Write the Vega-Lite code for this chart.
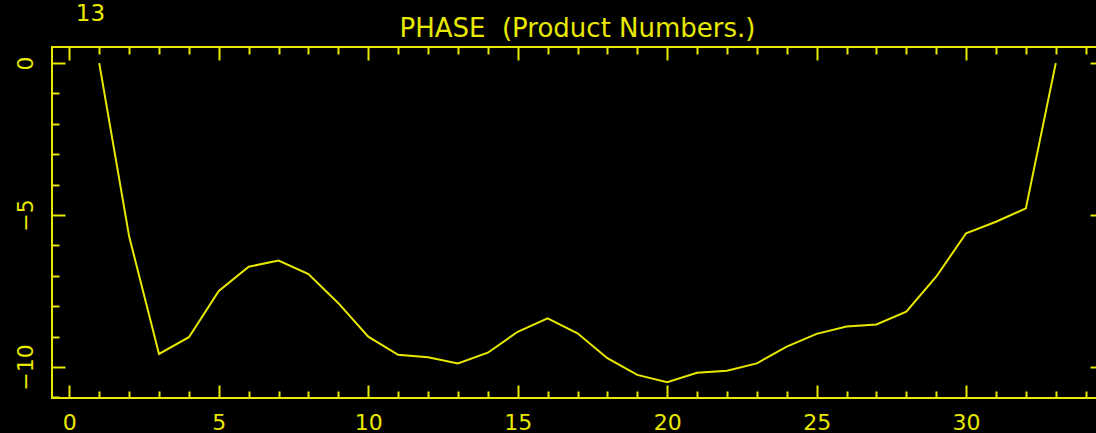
{
  "$schema": "https://vega.github.io/schema/vega-lite/v6.json",
  "width": 1051,
  "height": 351,
  "autosize": {"type": "none"},
  "padding": {"left": 52, "top": 47, "right": -7, "bottom": 35},
  "background": "#000000",
  "title": {
    "text": "PHASE \u00a0(Product Numbers.)",
    "color": "#e8e800",
    "font": "DejaVu Sans",
    "fontSize": 26,
    "fontWeight": "normal",
    "anchor": "middle",
    "baseline": "alphabetic",
    "offset": -61
  },
  "config": {
    "view": {"stroke": "#e8e800", "strokeWidth": 2},
    "axis": {
      "grid": false,
      "domain": false,
      "tickColor": "#e8e800",
      "tickWidth": 2,
      "labelColor": "#e8e800",
      "labelFont": "DejaVu Sans",
      "labelFontSize": 22,
      "titleColor": "#e8e800",
      "titleFont": "DejaVu Sans",
      "titleFontWeight": "normal"
    }
  },
  "data": {
    "values": [
      {"n": 1, "phase": 0},
      {"n": 2, "phase": -5.7},
      {"n": 3, "phase": -9.57},
      {"n": 4, "phase": -9.02},
      {"n": 5, "phase": -7.5},
      {"n": 6, "phase": -6.7},
      {"n": 7, "phase": -6.5},
      {"n": 8, "phase": -6.94},
      {"n": 9, "phase": -7.9},
      {"n": 10, "phase": -9.0},
      {"n": 11, "phase": -9.6},
      {"n": 12, "phase": -9.68},
      {"n": 13, "phase": -9.88},
      {"n": 14, "phase": -9.53},
      {"n": 15, "phase": -8.84},
      {"n": 16, "phase": -8.4},
      {"n": 17, "phase": -8.89},
      {"n": 18, "phase": -9.71},
      {"n": 19, "phase": -10.26},
      {"n": 20, "phase": -10.5},
      {"n": 21, "phase": -10.19},
      {"n": 22, "phase": -10.12},
      {"n": 23, "phase": -9.88},
      {"n": 24, "phase": -9.33},
      {"n": 25, "phase": -8.91},
      {"n": 26, "phase": -8.67},
      {"n": 27, "phase": -8.6},
      {"n": 28, "phase": -8.18},
      {"n": 29, "phase": -7.03},
      {"n": 30, "phase": -5.6},
      {"n": 31, "phase": -5.22},
      {"n": 32, "phase": -4.78},
      {"n": 33, "phase": 0}
    ]
  },
  "layer": [
    {
      "mark": {"type": "line", "color": "#e8e800", "strokeWidth": 2, "clip": true},
      "encoding": {
        "x": {
          "field": "n", "type": "quantitative",
          "scale": {"domain": [-0.58, 34.58], "nice": false, "zero": false},
          "axis": {
            "orient": "bottom",
            "title": null,
            "values": [0,1,2,3,4,5,6,7,8,9,10,11,12,13,14,15,16,17,18,19,20,21,22,23,24,25,26,27,28,29,30,31,32,33,34],
            "tickSize": {"condition": {"test": "datum.value % 5 === 0", "value": -13}, "value": -7},
            "labelExpr": "datum.value % 5 === 0 ? datum.label : ''",
            "labelPadding": 27,
            "labelFlush": false
          }
        },
        "y": {
          "field": "phase", "type": "quantitative",
          "scale": {"domain": [-11.02, 0.53], "nice": false, "zero": false},
          "axis": {
            "orient": "left",
            "title": "13",
            "titleAngle": 0,
            "titleX": 38,
            "titleY": -34,
            "titleAlign": "center",
            "titleBaseline": "middle",
            "titleFontSize": 23,
            "values": [-11,-10,-9,-8,-7,-6,-5,-4,-3,-2,-1,0],
            "tickSize": {"condition": {"test": "datum.value % 5 === 0", "value": -13}, "value": -7},
            "labelExpr": "datum.value % 5 === 0 ? datum.label : ''",
            "labelAngle": -90,
            "labelAlign": "center",
            "labelBaseline": "bottom",
            "labelPadding": 28,
            "labelFlush": false
          }
        }
      }
    },
    {
      "mark": {"type": "point", "opacity": 0},
      "encoding": {
        "x": {
          "field": "n", "type": "quantitative",
          "axis": {
            "orient": "top",
            "title": null,
            "labels": false,
            "values": [0,1,2,3,4,5,6,7,8,9,10,11,12,13,14,15,16,17,18,19,20,21,22,23,24,25,26,27,28,29,30,31,32,33,34],
            "tickSize": {"condition": {"test": "datum.value % 5 === 0", "value": -13}, "value": -7}
          }
        },
        "y": {
          "field": "phase", "type": "quantitative",
          "axis": {
            "orient": "right",
            "title": null,
            "labels": false,
            "values": [-11,-10,-9,-8,-7,-6,-5,-4,-3,-2,-1,0],
            "tickSize": {"condition": {"test": "datum.value % 5 === 0", "value": -13}, "value": -7}
          }
        }
      }
    }
  ],
  "resolve": {"axis": {"x": "independent", "y": "independent"}}
}
